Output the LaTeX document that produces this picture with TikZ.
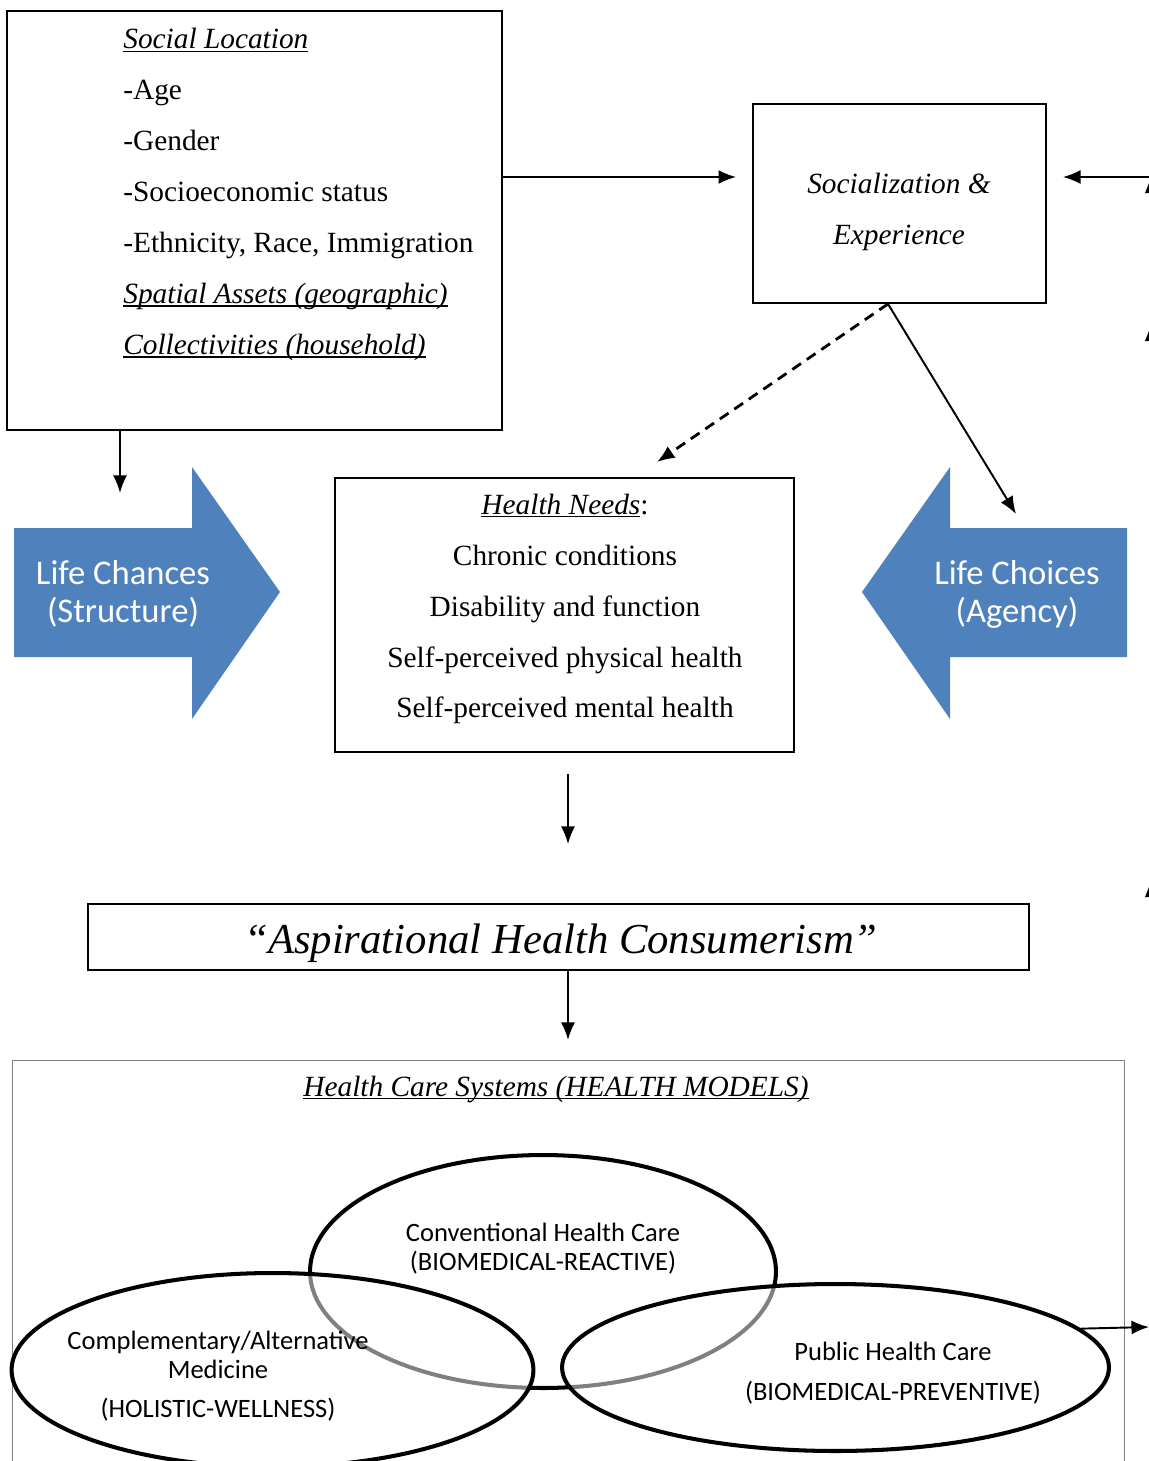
\documentclass[tikz,border=0pt]{standalone}
\usepackage{fontspec}
\setmainfont{Liberation Serif}
\newfontfamily\calibri{Carlito}
\usetikzlibrary{shapes,arrows.meta}
\definecolor{lifeblue}{HTML}{4F81BD}
\definecolor{framegray}{HTML}{7F7F7F}
\newcommand{\undl}[1]{\setbox0=\hbox{#1}\rlap{\rule[-1.8pt]{\wd0}{0.7pt}}\box0}
\tikzstyle{block} = [rectangle, draw, line width=1.1pt, inner sep=0pt]
\tikzstyle{line} = [draw, line width=1.1pt, -{Latex[length=10pt,width=8pt]}]
\tikzstyle{dashline} = [line, line width=1.6pt, dash pattern=on 6pt off 4pt]
\tikzstyle{bigarrow} = [fill=lifeblue]
\tikzstyle{bigtext} = [text=white, font=\calibri\fontsize{19.7}{21.6}\selectfont, align=center]
\tikzstyle{model} = [ellipse, draw, line width=2.3pt, inner sep=0pt]
\tikzstyle{modeltext} = [font=\calibri\fontsize{15.1}{16.5}\selectfont, align=center]
\tikzstyle{serif} = [font=\fontsize{16.7}{29}\selectfont, inner sep=0pt]
\begin{document}
\begin{tikzpicture}[x=0.02cm, y=-0.02cm]
	\useasboundingbox (0,0) rectangle (1149,1461);

	% top row
	\node [block, minimum width=9.9cm, minimum height=8.38cm, anchor=north west] (social) at (6,10) {};
	\node [serif, align=left, anchor=north west] (socialtext) at (123,28) {\undl{\textit{Social Location}}\\-Age\\-Gender\\-Socioeconomic status\\-Ethnicity, Race, Immigration\\\undl{\textit{Spatial Assets (geographic)}}\\\undl{\textit{Collectivities (household)}}};
	\node [block, minimum width=5.86cm, minimum height=3.98cm] (socialization) at (899.5,203.5) {};
	\node [serif, align=center] (socializationtext) at (899,211.5) {\textit{Socialization \&}\\\textit{Experience}};

	% life chances / life choices
	\path [bigarrow] (14,528) -- (192,528) -- (192,467) -- (280,592) -- (192,719) -- (192,657) -- (14,657) -- cycle;
	\node [bigtext] (chances) at (123,594) {Life Chances\\(Structure)};
	\path [bigarrow] (1127,528) -- (950,528) -- (950,467) -- (862,592) -- (950,719) -- (950,657) -- (1127,657) -- cycle;
	\node [bigtext] (choices) at (1017,594) {Life Choices\\(Agency)};

	\node [block, minimum width=9.18cm, minimum height=5.48cm] (needs) at (564.5,615) {};
	\node [serif, align=center] (needstext) at (565,609) {\undl{\textit{Health Needs}}:\\Chronic conditions\\Disability and function\\Self-perceived physical health\\Self-perceived mental health};

	\node [block, minimum width=18.82cm, minimum height=1.32cm] (aspiration) at (558.5,937) {};
	\node [font=\fontsize{24.3}{30}\selectfont\itshape] (aspirationtext) at (561,943) {“Aspirational Health Consumerism”};

	% health care systems
	\node [draw=framegray, line width=0.6pt, minimum width=22.24cm, minimum height=8.5cm, anchor=north west] (systems) at (12,1060) {};
	\node [serif, font=\fontsize{16.7}{29}\selectfont\itshape] (systemstitle) at (556,1089) {\undl{Health Care Systems (HEALTH MODELS)}};

	\node [model, minimum width=9.32cm, minimum height=4.66cm] (conventional) at (543,1271.5) {};
	\node [model, fill=white, fill opacity=0.5, minimum width=10.44cm, minimum height=3.88cm] (complementary) at (272.5,1370) {};
	\node [model, fill=white, fill opacity=0.5, minimum width=10.94cm, minimum height=3.34cm] (public) at (835.5,1367.5) {};
	\node [modeltext] (conventionaltext) at (543,1249) {Conventional Health Care\\(BIOMEDICAL-REACTIVE)};
	\node [modeltext] (complementarytext) at (218,1376) {Complementary/Alternative\\Medicine\\[6pt](HOLISTIC-WELLNESS)};
	\node [modeltext] (publictext) at (893,1373) {Public Health Care\\[6pt](BIOMEDICAL-PREVENTIVE)};

	% connectors
	\coordinate (row) at (0,177);
	\coordinate (offright) at (1152,177);
	\coordinate (chancestop) at (120,493);
	\coordinate (choicestop) at (1016,514);
	\coordinate (offpublic) at (1149,1327);

	\path [line, shorten >=0.32cm] (social.east |- row) -- (socialization.west |- row);
	\path [line, shorten >=0.32cm] (offright) -- (socialization.east |- row);
	\path [line] (social.south -| chancestop) -- (chancestop);
	\path [dashline] ([xshift=-0.23cm]socialization.south) -- ([xshift=1.85cm, yshift=0.3cm]needs.north);
	\path [line] ([xshift=-0.23cm]socialization.south) -- (choicestop);
	\path [line, shorten <=0.42cm, shorten >=1.18cm] ([xshift=0.07cm]needs.south) -- ([xshift=0.07cm]needs.south |- aspiration.north);
	\path [line, shorten >=0.4cm] ([xshift=0.07cm]needs.south |- aspiration.south) -- ([xshift=0.07cm]needs.south |- systems.north);
	\path [line] (public.9.6) -- (offpublic);

	% cut-off tips at the right edge
	\fill (1145,193) -- (1153,173) -- (1153,193) -- cycle;
	\fill (1145,341) -- (1153,321) -- (1153,341) -- cycle;
	\fill (1145,897) -- (1153,877) -- (1153,897) -- cycle;
\end{tikzpicture}
\end{document}
